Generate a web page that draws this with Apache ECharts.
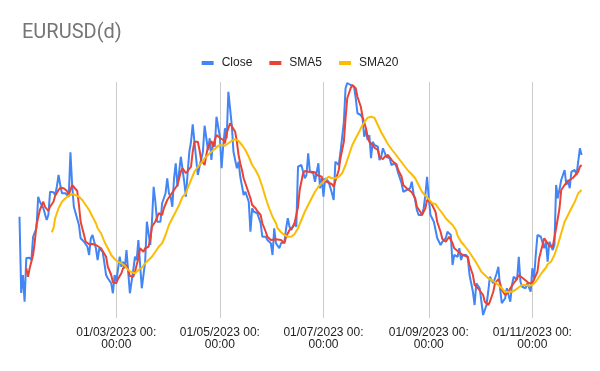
<!DOCTYPE html>
<html>
<head>
<meta charset="utf-8">
<script src="https://cdn.jsdelivr.net/npm/echarts@6/dist/echarts.min.js"></script>
<style>
html,body{margin:0;padding:0;background:#fff;}
#chart{width:600px;height:371px;}
</style>
</head>
<body>
<div id="chart"></div>
<script>
// x = day of year 2023 (1 = 01/01/2023), y = EURUSD
const closeData = [
[3,1.0805],[4,1.0500],[5,1.0572],[6,1.0465],[7,1.0640],[9,1.0641],[10,1.0632],[11,1.0725],[12,1.0732],[13,1.0760],
[14,1.0885],[15,1.0865],[16,1.0860],[17,1.0840],[19,1.0792],[20,1.0812],[21,1.0905],[23,1.0903],[24,1.0892],[25,1.0925],
[26,1.0972],[27,1.0932],[28,1.0899],[30,1.0899],[31,1.0892],[32,1.0885],[33,1.1063],[34,1.0932],[35,1.0845],[36,1.0839],
[38,1.0772],[39,1.0719],[40,1.0719],[41,1.0705],[42,1.0699],[43,1.0685],[44,1.0652],[45,1.0719],[46,1.0732],[48,1.0679],
[49,1.0632],[50,1.0679],[51,1.0672],[52,1.0665],[54,1.0572],[55,1.0559],[57,1.0539],[58,1.0499],[59,1.0572],[60,1.0545],
[62,1.0645],[63,1.0605],[64,1.0625],[65,1.0599],[66,1.0672],[68,1.0499],[69,1.0499],[70,1.0592],[71,1.0645],[72,1.0632],
[73,1.0712],[74,1.0719],[75,1.0519],[77,1.0625],[78,1.0785],[79,1.0785],[80,1.0692],[81,1.0785],[82,1.0925],[83,1.0865],
[84,1.0785],[85,1.0792],[86,1.0785],[87,1.0859],[88,1.0865],[89,1.0899],[90,1.0959],[91,1.0899],[92,1.0885],[93,1.0845],
[94,1.0959],[95,1.1019],[96,1.0925],[97,1.0985],[98,1.1045],[99,1.1045],[100,1.0945],[101,1.0885],[102,1.0979],[103,1.1065],
[104,1.1105],[105,1.1175],[106,1.1175],[107,1.1039],[108,1.0972],[109,1.1005],[110,1.0999],[111,1.1065],[112,1.1169],[113,1.1169],
[114,1.1072],[115,1.1119],[116,1.1032],[117,1.1105],[118,1.1085],[119,1.1205],[120,1.1205],[121,1.1125],[122,1.0999],[123,1.1092],
[124,1.1159],[125,1.1119],[126,1.1305],[127,1.1305],[128,1.1172],[129,1.1065],[130,1.1032],[131,1.0999],[132,1.1025],[133,1.0965],
[134,1.0972],[135,1.0892],[136,1.0905],[137,1.0885],[138,1.0865],[139,1.0745],[140,1.0839],[141,1.0825],[142,1.0832],[143,1.0819],
[144,1.0812],[145,1.0779],[146,1.0725],[147,1.0719],[148,1.0725],[149,1.0712],[150,1.0719],[151,1.0699],[152,1.0652],[153,1.0759],
[154,1.0699],[155,1.0705],[156,1.0679],[157,1.0699],[158,1.0692],[159,1.0705],[160,1.0759],[161,1.0799],[162,1.0765],[163,1.0752],
[164,1.0759],[165,1.0779],[166,1.0765],[167,1.1005],[169,1.1012],[170,1.0985],[171,1.0959],[172,1.0972],[173,1.1059],[174,1.0985],
[175,1.0992],[176,1.0979],[177,1.0945],[178,1.0945],[179,1.1019],[180,1.0919],[181,1.0959],[182,1.0885],[183,1.0959],[184,1.0959],
[185,1.0945],[186,1.0945],[187,1.0899],[188,1.0872],[189,1.1025],[190,1.1019],[191,1.1012],[192,1.1063],[193,1.1065],[194,1.1185],
[195,1.1319],[196,1.1340],[197,1.1339],[198,1.1332],[199,1.1339],[200,1.1325],[201,1.1279],[202,1.1219],[203,1.1215],[204,1.1212],
[205,1.1199],[206,1.1125],[207,1.1152],[208,1.1112],[209,1.1132],[210,1.1039],[211,1.1105],[212,1.1092],[213,1.1085],[214,1.1085],
[215,1.1032],[216,1.1045],[217,1.1079],[218,1.1085],[219,1.1045],[220,1.1045],[221,1.1039],[222,1.1012],[223,1.1005],[224,1.1019],
[225,1.1005],[226,1.0979],[227,1.0972],[228,1.0939],[229,1.0905],[230,1.0905],[231,1.0912],[232,1.0912],[233,1.0919],[234,1.0945],
[235,1.0899],[236,1.0872],[237,1.0832],[238,1.0812],[239,1.0805],[240,1.0812],[241,1.0839],[242,1.0892],[243,1.0965],[244,1.0879],
[245,1.0812],[246,1.0805],[247,1.0785],[248,1.0779],[249,1.0719],[250,1.0719],[251,1.0692],[252,1.0705],[253,1.0699],[254,1.0719],
[255,1.0745],[256,1.0752],[257,1.0732],[258,1.0612],[259,1.0652],[260,1.0652],[261,1.0645],[262,1.0679],[263,1.0632],[264,1.0652],
[265,1.0645],[266,1.0652],[267,1.0639],[268,1.0572],[269,1.0539],[270,1.0505],[271,1.0452],[272,1.0539],[273,1.0545],[274,1.0519],
[275,1.0465],[276,1.0412],[277,1.0412],[278,1.0452],[279,1.0505],[280,1.0565],[281,1.0559],[282,1.0539],[283,1.0559],[284,1.0579],
[285,1.0605],[286,1.0519],[287,1.0459],[288,1.0459],[289,1.0479],[290,1.0519],[291,1.0492],[292,1.0465],[293,1.0532],[294,1.0565],
[295,1.0572],[296,1.0552],[297,1.0645],[298,1.0545],[299,1.0525],[300,1.0525],[301,1.0519],[302,1.0539],[303,1.0545],[304,1.0505],
[305,1.0599],[306,1.0559],[307,1.0652],[308,1.0732],[309,1.0732],[310,1.0725],[311,1.0719],[312,1.0679],[313,1.0705],[314,1.0625],
[315,1.0705],[316,1.0705],[317,1.0672],[318,1.0692],[319,1.0932],[320,1.0879],[321,1.0872],[322,1.0952],[323,1.0952],[324,1.0992],
[325,1.0932],[326,1.0952],[327,1.0919],[328,1.0985],[329,1.0992],[330,1.0992],[331,1.0972],[332,1.1025],[333,1.1079],[334,1.1052]
];
const sma5Data = [
[7,1.0599],[8,1.0565],[9,1.0599],[11,1.0652],[12,1.0705],[13,1.0772],[15,1.0832],[17,1.0865],[18,1.0845],[20,1.0828],
[21,1.0845],[23,1.0865],[24,1.0889],[26,1.0912],[27,1.0921],[29,1.0919],[31,1.0908],[32,1.0892],[34,1.0932],[35,1.0925],
[37,1.0908],[38,1.0852],[39,1.0785],[41,1.0732],[42,1.0705],[44,1.0695],[46,1.0696],[48,1.0692],[49,1.0689],[51,1.0679],
[52,1.0672],[54,1.0645],[55,1.0605],[57,1.0572],[58,1.0543],[60,1.0539],[61,1.0556],[63,1.0579],[64,1.0599],[66,1.0612],
[67,1.0592],[68,1.0568],[70,1.0565],[71,1.0585],[73,1.0639],[74,1.0679],[76,1.0665],[77,1.0679],[79,1.0685],[80,1.0719],
[81,1.0765],[83,1.0786],[85,1.0819],[87,1.0812],[88,1.0839],[90,1.0872],[92,1.0892],[94,1.0912],[96,1.0932],[98,1.0985],
[99,1.0999],[101,1.0979],[102,1.0979],[104,1.1005],[105,1.1065],[106,1.1105],[108,1.1105],[109,1.1072],[110,1.1032],[112,1.1012],
[113,1.1052],[114,1.1085],[116,1.1108],[117,1.1085],[118,1.1112],[119,1.1132],[121,1.1121],[123,1.1112],[124,1.1099],[125,1.1139],
[127,1.1179],[128,1.1172],[130,1.1145],[131,1.1105],[132,1.1052],[133,1.1019],[134,1.0992],[135,1.0959],[137,1.0919],[139,1.0879],
[140,1.0852],[142,1.0839],[143,1.0828],[145,1.0812],[146,1.0779],[148,1.0745],[149,1.0725],[151,1.0712],[152,1.0716],[154,1.0715],
[155,1.0719],[157,1.0712],[159,1.0699],[160,1.0725],[162,1.0752],[164,1.0765],[165,1.0780],[167,1.0844],[168,1.0912],[170,1.0979],
[171,1.0988],[173,1.0985],[175,1.0985],[177,1.0983],[178,1.0972],[179,1.0965],[181,1.0965],[182,1.0948],[184,1.0945],[185,1.0943],
[187,1.0935],[188,1.0925],[189,1.0948],[191,1.0992],[192,1.1039],[194,1.1105],[195,1.1199],[196,1.1279],[198,1.1319],[199,1.1332],
[201,1.1319],[202,1.1285],[204,1.1245],[205,1.1205],[207,1.1159],[208,1.1125],[209,1.1105],[211,1.1092],[212,1.1081],[214,1.1072],
[215,1.1045],[217,1.1035],[218,1.1045],[220,1.1052],[221,1.1045],[223,1.1025],[225,1.1015],[226,1.0992],[228,1.0965],[229,1.0932],
[231,1.0919],[232,1.0912],[234,1.0903],[236,1.0879],[237,1.0845],[239,1.0825],[240,1.0812],[242,1.0839],[243,1.0872],[245,1.0865],
[246,1.0852],[248,1.0824],[249,1.0784],[251,1.0744],[252,1.0716],[254,1.0705],[255,1.0712],[256,1.0725],[258,1.0699],[259,1.0679],
[261,1.0668],[262,1.0665],[264,1.0652],[265,1.0652],[267,1.0645],[268,1.0612],[270,1.0572],[271,1.0532],[273,1.0519],[274,1.0512],
[276,1.0492],[277,1.0465],[279,1.0452],[280,1.0465],[282,1.0505],[283,1.0539],[285,1.0556],[286,1.0539],[287,1.0512],[289,1.0492],
[291,1.0505],[292,1.0519],[294,1.0539],[295,1.0548],[297,1.0572],[298,1.0569],[300,1.0556],[301,1.0552],[303,1.0539],[305,1.0539],
[306,1.0545],[308,1.0585],[309,1.0639],[311,1.0692],[312,1.0719],[314,1.0699],[315,1.0688],[317,1.0685],[318,1.0692],[319,1.0759],
[321,1.0839],[322,1.0912],[324,1.0932],[326,1.0948],[327,1.0952],[329,1.0961],[330,1.0965],[332,1.0985],[333,1.1005],[334,1.1012]
];
const sma20Data = [
[22,1.0743],[23,1.0759],[24,1.0799],[26,1.0839],[28,1.0865],[30,1.0879],[32,1.0889],[34,1.0895],[36,1.0892],[38,1.0885],
[40,1.0872],[42,1.0852],[44,1.0832],[46,1.0805],[48,1.0779],[49,1.0759],[51,1.0739],[53,1.0705],[55,1.0679],[57,1.0652],
[59,1.0636],[61,1.0625],[63,1.0619],[65,1.0609],[67,1.0592],[69,1.0583],[71,1.0579],[73,1.0592],[75,1.0601],[77,1.0619],
[79,1.0632],[81,1.0645],[83,1.0665],[85,1.0685],[87,1.0699],[89,1.0732],[91,1.0772],[93,1.0799],[95,1.0825],[97,1.0852],
[99,1.0885],[101,1.0899],[102,1.0919],[104,1.0952],[106,1.0985],[108,1.1005],[110,1.1019],[112,1.1039],[114,1.1052],[116,1.1065],
[118,1.1076],[120,1.1089],[122,1.1092],[124,1.1089],[126,1.1099],[128,1.1109],[130,1.1115],[132,1.1108],[134,1.1092],[136,1.1072],
[138,1.1045],[140,1.1012],[142,1.0992],[144,1.0965],[146,1.0925],[148,1.0879],[150,1.0839],[152,1.0805],[154,1.0779],[155,1.0759],
[157,1.0743],[159,1.0732],[161,1.0725],[163,1.0725],[165,1.0736],[167,1.0759],[169,1.0792],[171,1.0825],[173,1.0852],[175,1.0879],
[177,1.0905],[179,1.0925],[181,1.0939],[183,1.0952],[185,1.0965],[187,1.0959],[189,1.0959],[191,1.0965],[193,1.0979],[195,1.1012],
[197,1.1052],[199,1.1092],[201,1.1119],[203,1.1145],[205,1.1172],[207,1.1192],[208,1.1201],[210,1.1205],[212,1.1201],[214,1.1172],
[216,1.1143],[218,1.1119],[220,1.1095],[222,1.1076],[224,1.1059],[226,1.1041],[228,1.1023],[230,1.1005],[232,1.0988],[234,1.0975],
[236,1.0959],[238,1.0932],[240,1.0905],[242,1.0889],[244,1.0876],[246,1.0859],[248,1.0856],[250,1.0836],[252,1.0819],[254,1.0799],
[256,1.0785],[258,1.0772],[260,1.0752],[261,1.0729],[263,1.0705],[265,1.0689],[267,1.0672],[269,1.0652],[271,1.0632],[273,1.0609],
[275,1.0585],[277,1.0572],[279,1.0559],[281,1.0552],[283,1.0543],[285,1.0532],[287,1.0519],[289,1.0503],[291,1.0505],[293,1.0505],
[295,1.0512],[297,1.0523],[299,1.0532],[301,1.0532],[303,1.0529],[305,1.0532],[307,1.0545],[309,1.0565],[311,1.0585],[313,1.0601],
[314,1.0615],[316,1.0625],[318,1.0652],[320,1.0692],[322,1.0739],[324,1.0785],[326,1.0812],[328,1.0839],[330,1.0865],[332,1.0899],
[334,1.0912]
];
const tickDays = [60, 121, 182, 244, 305];
const tickLabels = ['01/03/2023 00:\n00:00', '01/05/2023 00:\n00:00', '01/07/2023 00:\n00:00', '01/09/2023 00:\n00:00', '01/11/2023 00:\n00:00'];
const seriesNames = ['Close', 'SMA5', 'SMA20'];
const seriesColors = ['#4285F4', '#EA4335', '#FBBC04'];

const chart = echarts.init(document.getElementById('chart'), null, {renderer: 'canvas'});
const dataSets = [closeData, sma5Data, sma20Data];
chart.setOption({
  animation: false,
  backgroundColor: '#ffffff',
  title: {
    text: 'EURUSD(d)',
    left: 17,
    top: 18,
    textStyle: {fontFamily: 'Roboto', fontSize: 20, fontWeight: 'normal', color: '#757575'}
  },
  legend: {
    data: seriesNames,
    top: 52,
    left: 'center',
    icon: 'rect',
    itemWidth: 12,
    itemHeight: 4,
    itemGap: 17,
    textStyle: {fontFamily: 'Arial, Liberation Sans', fontSize: 12, color: '#222222', padding: [0, 0, 0, 3]}
  },
  grid: {left: 19.5, right: 18.4, top: 82, bottom: 53, containLabel: false},
  xAxis: {
    type: 'value',
    min: 3,
    max: 334,
    axisLine: {show: false},
    axisTick: {show: false, customValues: tickDays},
    axisLabel: {
      customValues: tickDays,
      margin: 9,
      fontFamily: 'Arial, Liberation Sans',
      fontSize: 12,
      lineHeight: 12,
      color: '#222222',
      align: 'center',
      formatter: function (v) {
        const i = tickDays.indexOf(Math.round(v));
        return i >= 0 ? tickLabels[i] : '';
      }
    },
    splitLine: {show: true, lineStyle: {color: '#cccccc', width: 1}}
  },
  yAxis: {
    type: 'value',
    min: 1.04,
    max: 1.1344,
    axisLine: {show: false},
    axisTick: {show: false},
    axisLabel: {show: false},
    splitLine: {show: false}
  },
  series: seriesNames.map(function (name, i) {
    return {
      name: name,
      type: 'line',
      data: dataSets[i],
      showSymbol: false,
      symbol: 'none',
      color: seriesColors[i],
      lineStyle: {width: 2, color: seriesColors[i]},
      emphasis: {disabled: true}
    };
  })
});
</script>
</body>
</html>
